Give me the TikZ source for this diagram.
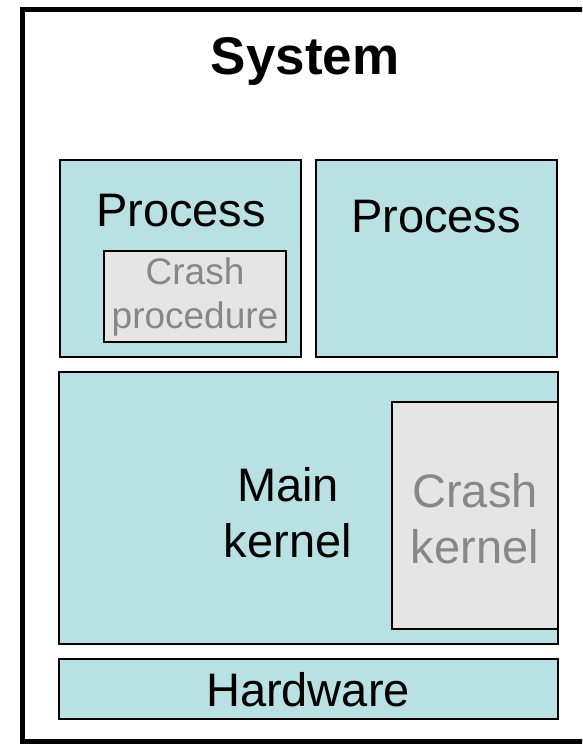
\documentclass[tikz,border=0pt]{standalone}
\usepackage{fontspec}
\setmainfont{Liberation Sans}
\usepackage{xcolor}
\usetikzlibrary{positioning,fit}

\definecolor{tealfill}{HTML}{B9E0E3}
\definecolor{crashfill}{HTML}{E5E5E5}
\definecolor{crashtext}{HTML}{878787}

\begin{document}
\begin{tikzpicture}[
    x=1pt, y=-1pt,
    layer/.style={rectangle, draw, line width=1.6pt, fill=tealfill, inner sep=0pt},
    crashbox/.style={rectangle, draw, line width=1.6pt, fill=crashfill, inner sep=0pt},
    big/.style={font=\fontsize{47}{56}\selectfont, align=center, inner sep=0pt},
    small/.style={font=\fontsize{37}{44}\selectfont, align=center, inner sep=0pt, text=crashtext}
]
    \useasboundingbox (0,0) rectangle (582,744);
    \clip (0,0) rectangle (582,744);

    % System frame
    \node[draw, line width=5pt, inner sep=0pt, fit={(22.5,9.5) (600,741)}] (system) {};
    \node[font=\bfseries\fontsize{53}{60}\selectfont, inner sep=0pt] (systitle) at (305,61) {System};

    % Processes
    \node[layer, fit={(60,160) (301,357)}] (proc1) {};
    \node[big] (proc1text) at (181,211) {Process};
    \node[crashbox, fit={(104,251) (286,342)}] (crashproc) {};
    \node[small] (crashproctext) at (crashproc.center) {Crash\\procedure};

    \node[layer, fit={(316,160) (557,357)}] (proc2) {};
    \node[big] (proc2text) at (436,217) {Process};

    % Kernels
    \node[layer, fit={(59,372) (558,644)}] (kernel) {};
    \node[big] (kerneltext) at (288,513) {Main\\kernel};
    \node[crashbox, fit={(392,402) (558,629)}] (crashkernel) {};
    \node[big, text=crashtext] (crashkerneltext) at (475,519) {Crash\\kernel};

    % Hardware
    \node[layer, fit={(59,659) (558,719)}] (hw) {};
    \node[big] (hwtext) at (308,690) {Hardware};
\end{tikzpicture}
\end{document}
